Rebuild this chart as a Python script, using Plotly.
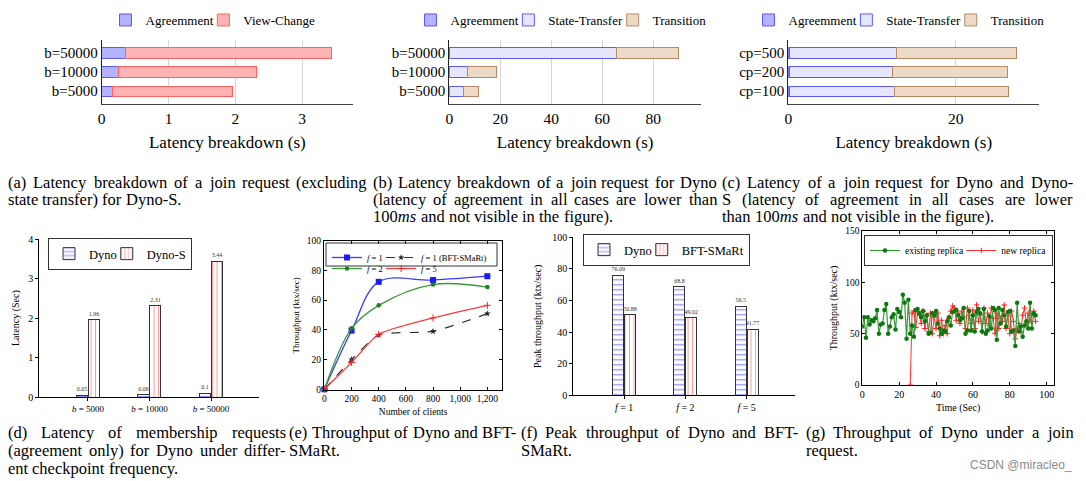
import plotly.graph_objects as go

# page offset (browser body margin) compensation
PAGE_OFF = 8
W, H = 1086 - PAGE_OFF, 481 - PAGE_OFF
FONT = "Liberation Serif"

# ---------------- data ----------------
# (a) Dyno-S join latency breakdown
a_cats = ["b=5000", "b=10000", "b=50000"]
a_agreement = [0.16, 0.25, 0.35]
a_viewchange = [1.80, 2.06, 3.09]

# (b) Dyno join latency breakdown
b_cats = ["b=5000", "b=10000", "b=50000"]
b_agreement = [0.05, 0.06, 0.10]
b_state = [5.6, 7.0, 65.5]
b_transition = [5.7, 11.4, 24.4]

# (c) checkpoint period
c_cats = ["cp=100", "cp=200", "cp=500"]
c_agreement = [0.15, 0.15, 0.15]
c_state = [12.6, 12.3, 12.8]
c_transition = [13.6, 13.7, 14.3]

# (d) membership latency
d_cats = ["<i>b</i> = 5000", "<i>b</i> = 10000", "<i>b</i> = 50000"]
d_dyno = [0.05, 0.06, 0.1]
d_dynos = [1.96, 2.31, 3.44]

# (e) throughput vs clients
e_clients = [0, 200, 400, 800, 1200]
e_f1 = [0, 39.5, 72.3, 73.5, 76.09]
e_f1_bft = [0, 20, 36.5, 39, 50.88]
e_f2 = [0, 41, 56.5, 70.5, 68.8]
e_f5 = [0, 18, 37, 48, 56.5]
e_xticks = [0, 200, 400, 600, 800, 1000, 1200]

# (f) peak throughput
f_cats = ["<i>f</i> = 1", "<i>f</i> = 2", "<i>f</i> = 5"]
f_dyno = [76.09, 68.8, 56.5]
f_bft = [50.88, 49.02, 41.77]

# (g) throughput during join
g_existing = [57, 66, 46, 66, 59, 63, 62, 65, 73, 50,
              59, 60, 73, 79, 50, 57, 66, 69, 54, 74,
              71, 66, 88, 80, 45, 83, 50, 58, 47, 73,
              74, 70, 66, 72, 62, 68, 50, 51, 70, 68,
              72, 60, 55, 50, 53, 52, 62, 66, 58, 71,
              72, 73, 68, 63, 65, 75, 50, 53, 72, 53,
              68, 52, 71, 74, 70, 52, 74, 50, 53, 67,
              55, 75, 73, 44, 75, 60, 73, 68, 57, 71,
              72, 52, 53, 38, 80, 52, 57, 47, 58, 62,
              55, 80, 55, 70, 68]
g_existing_t = list(range(0, 95))
g_new = [0, 70, 72, 56, 70, 68, 60, 72, 55, 68,
         52, 70, 50, 66, 55, 70, 48, 63, 50, 58,
         50, 65, 72, 77, 75, 63, 70, 60, 72, 66,
         55, 75, 68, 60, 73, 55, 78, 62, 68, 52,
         75, 60, 70, 58, 75, 65, 50, 70, 55, 65,
         62, 78, 55, 68, 50, 72, 62, 45, 55, 60,
         52, 68, 75, 60, 70, 62, 68, 72, 62]
g_new_t = list(range(26, 95))

# ---------------- helpers (reference pixel -> paper) ----------------
def X(px):
    return (px - PAGE_OFF) / W

def Y(py):
    return 1 - (py - PAGE_OFF) / H

def dx(x0, x1):
    return [X(x0), X(x1)]

def dy(top, bottom):
    return [Y(bottom), Y(top)]

# Times metrics (Liberation Serif is metric compatible)
TW = {' ': 250, '!': 333, '(': 333, ')': 333, ',': 250, '-': 333, '.': 250, '/': 278, ':': 278,
      '=': 564, '@': 921, '_': 500,
      'A': 722, 'B': 667, 'C': 667, 'D': 722, 'E': 611, 'F': 556, 'G': 722, 'H': 722, 'I': 333,
      'J': 389, 'K': 722, 'L': 611, 'M': 889, 'N': 722, 'O': 722, 'P': 556, 'Q': 722, 'R': 667,
      'S': 556, 'T': 611, 'U': 722, 'V': 722, 'W': 944, 'X': 722, 'Y': 722, 'Z': 611,
      'a': 444, 'b': 500, 'c': 444, 'd': 500, 'e': 444, 'f': 333, 'g': 500, 'h': 500, 'i': 278,
      'j': 278, 'k': 500, 'l': 278, 'm': 778, 'n': 500, 'o': 500, 'p': 500, 'q': 500, 'r': 333,
      's': 389, 't': 278, 'u': 500, 'v': 500, 'w': 722, 'x': 500, 'y': 500, 'z': 444}
for ch in "0123456789":
    TW[ch] = 500

def text_w(s, fs):
    s = s.replace("<i>", "").replace("</i>", "")
    return sum(TW.get(c, 500) for c in s) * fs / 1000.0

AGR_FILL, AGR_LINE = "#b3b3ff", "#5a5aff"
VC_FILL, VC_LINE = "#ffb3b3", "#ff6060"
ST_FILL, ST_LINE = "#e6e6ff", "#5a5aff"
TR_FILL, TR_LINE = "#ecd9c6", "#b98a62"

TOP_LEG_FS = 13
fig = go.Figure()

def hbar(name, vals, cats, fill, line, ax, leg, last=False):
    lw = None if last else max(text_w(name, TOP_LEG_FS) - 15, 1)
    fig.add_trace(go.Bar(
        name=name, x=vals, y=cats, orientation="h", width=0.53,
        marker=dict(color=fill, line=dict(color=line, width=1)),
        xaxis="x" + ax, yaxis="y" + ax, legend=leg, legendwidth=lw, hoverinfo="skip"))

hbar("Agreemment", a_agreement, a_cats, AGR_FILL, AGR_LINE, "", "legend")
hbar("View-Change", a_viewchange, a_cats, VC_FILL, VC_LINE, "", "legend", last=True)

hbar("Agreemment", b_agreement, b_cats, AGR_FILL, AGR_LINE, "2", "legend2")
hbar("State-Transfer", b_state, b_cats, ST_FILL, ST_LINE, "2", "legend2")
hbar("Transition", b_transition, b_cats, TR_FILL, TR_LINE, "2", "legend2", last=True)

hbar("Agreemment", c_agreement, c_cats, AGR_FILL, AGR_LINE, "3", "legend3")
hbar("State-Transfer", c_state, c_cats, ST_FILL, ST_LINE, "3", "legend3")
hbar("Transition", c_transition, c_cats, TR_FILL, TR_LINE, "3", "legend3", last=True)

OFF = 0.097
BW = 0.18
BOT_LEG_FS = 12.5
DYNO_MARK = dict(color="white", line=dict(color="#333", width=1),
                 pattern=dict(shape="-", fgcolor="#2020ff", bgcolor="white", size=5, solidity=0.25))
RED_MARK = dict(color="white", line=dict(color="#333", width=1),
                pattern=dict(shape="|", fgcolor="#ff3030", bgcolor="white", size=4.5, solidity=0.22))

def vbar(name, vals, sign, mark, ax, leg, last=False):
    n = len(vals)
    lw = None if last else max(text_w(name, BOT_LEG_FS) - 15, 1)
    fig.add_trace(go.Bar(
        name=name, x=[i + sign * OFF for i in range(n)], y=vals, width=BW,
        marker=mark, text=[str(v) for v in vals], textposition="outside",
        textfont=dict(size=6, family=FONT, color="#333"), constraintext="none", cliponaxis=False,
        xaxis="x" + ax, yaxis="y" + ax, legend=leg, legendwidth=lw, hoverinfo="skip"))

vbar("Dyno", d_dyno, -1, DYNO_MARK, "4", "legend4")
vbar("Dyno-S", d_dynos, 1, RED_MARK, "4", "legend4", last=True)

vbar("Dyno", f_dyno, -1, DYNO_MARK, "6", "legend7")
vbar("BFT-SMaRt", f_bft, 1, RED_MARK, "6", "legend7", last=True)

# (e) lines
E_FS = 8.5
e_lw = text_w("f = 1", E_FS) - 7
fig.add_trace(go.Scatter(name="<i>f</i> = 1", x=e_clients, y=e_f1, mode="lines+markers",
                         line=dict(color="#3a3aff", width=1.3, shape="spline", smoothing=1),
                         marker=dict(symbol="square", size=6, color="#1a1aff"),
                         xaxis="x5", yaxis="y5", legend="legend5", legendwidth=e_lw, cliponaxis=False))
fig.add_trace(go.Scatter(name="<i>f</i> = 1 (BFT-SMaRt)", x=e_clients, y=e_f1_bft, mode="lines+markers",
                         line=dict(color="#333", width=1.2, dash="dash", shape="spline", smoothing=0.6),
                         marker=dict(symbol="star", size=5, color="#222"),
                         xaxis="x5", yaxis="y5", legend="legend5", cliponaxis=False))
fig.add_trace(go.Scatter(name="<i>f</i> = 2", x=e_clients, y=e_f2, mode="lines+markers",
                         line=dict(color="#3a9a3a", width=1.3, shape="spline", smoothing=1),
                         marker=dict(symbol="circle", size=4.5, color="#1f7f1f"),
                         xaxis="x5", yaxis="y5", legend="legend6", legendwidth=e_lw, cliponaxis=False))
fig.add_trace(go.Scatter(name="<i>f</i> = 5", x=e_clients, y=e_f5, mode="lines+markers",
                         line=dict(color="#ff3a3a", width=1.3, shape="spline", smoothing=0.6),
                         marker=dict(symbol="cross-thin", size=5, line=dict(color="#ff2020", width=1)),
                         xaxis="x5", yaxis="y5", legend="legend6", cliponaxis=False))

# (g) lines (new replica drawn first so the existing replica stays on top)
G_FS = 9.5
fig.add_trace(go.Scatter(name="new replica", x=g_new_t, y=g_new, mode="lines+markers",
                         line=dict(color="#ff3030", width=1),
                         marker=dict(symbol="cross-thin", size=4, line=dict(color="#ff2020", width=1)),
                         xaxis="x7", yaxis="y7", legend="legend8", legendrank=2))
fig.add_trace(go.Scatter(name="existing replica", x=g_existing_t, y=g_existing, mode="lines+markers",
                         line=dict(color="#3c9a3c", width=1.2),
                         marker=dict(symbol="circle", size=4.5, color="#0d780d"),
                         xaxis="x7", yaxis="y7", legend="legend8", legendrank=1,
                         legendwidth=text_w("existing replica", G_FS) - 7))

# ---------------- axes ----------------
BLK = "black"

def f_(s):
    return dict(size=s, family=FONT, color=BLK)

def top_x(domain, rng, dtick):
    return dict(domain=domain, range=rng, dtick=dtick, tick0=0, showgrid=True, gridcolor="#d6d6d6",
                showline=True, linecolor="#444", linewidth=1, zeroline=False, ticks="",
                tickfont=f_(15.5),
                title=dict(text="Latency breakdown (s)", font=f_(17), standoff=10))

def top_y(domain, cats):
    return dict(domain=domain, type="category", categoryorder="array", categoryarray=cats,
                range=[-0.68, 2.68], showline=True, linecolor="#222", linewidth=1, ticks="",
                showgrid=False, zeroline=False, tickfont=f_(15))

ROW1 = dy(40, 104)
lay = dict(
    xaxis=dict(top_x(dx(101.7, 353), [0, 3.76], 1), anchor="y"),
    yaxis=dict(top_y(ROW1, a_cats), anchor="x"),
    xaxis2=dict(top_x(dx(449.3, 701), [0, 98.7], 20), anchor="y2"),
    yaxis2=dict(top_y(ROW1, b_cats), anchor="x2"),
    xaxis3=dict(top_x(dx(788.3, 1039.3), [0, 30], 20), anchor="y3"),
    yaxis3=dict(top_y(ROW1, c_cats), anchor="x3"),
)

# (d)
lay["xaxis4"] = dict(domain=dx(39.3, 259), anchor="y4", range=[-0.79, 2.78],
                     tickvals=list(range(len(d_cats))), ticktext=d_cats, showline=True, linecolor=BLK,
                     ticks="outside", ticklen=3, tickcolor=BLK, zeroline=False, showgrid=False,
                     tickfont=f_(9))
lay["yaxis4"] = dict(domain=dy(239, 397.3), anchor="x4", range=[0, 4], dtick=1, showline=True,
                     linecolor=BLK, ticks="outside", ticklen=3, tickcolor=BLK, zeroline=False,
                     showgrid=False, tickfont=f_(10),
                     title=dict(text="Latency (Sec)", font=f_(10), standoff=6))
# (e)
lay["xaxis5"] = dict(domain=dx(324, 502.3), anchor="y5", range=[-3, 1310], tickvals=e_xticks,
                     tickformat=",", showline=True, mirror="allticks", linecolor=BLK, ticks="inside",
                     ticklen=3, tickcolor=BLK, zeroline=False, showgrid=False, tickfont=f_(9.5),
                     title=dict(text="Number of clients", font=f_(9.5), standoff=4))
lay["yaxis5"] = dict(domain=dy(240.7, 390), anchor="x5", range=[-0.5, 100], dtick=20, showline=True,
                     mirror="allticks", linecolor=BLK, ticks="inside", ticklen=3, tickcolor=BLK,
                     zeroline=False, showgrid=False, tickfont=f_(9.5),
                     title=dict(text="Throughput (ktx/sec)", font=f_(9), standoff=5))
# (f)
lay["xaxis6"] = dict(domain=dx(573.3, 795), anchor="y6", range=[-0.83, 2.79],
                     tickvals=list(range(len(f_cats))), ticktext=f_cats, showline=True, linecolor=BLK,
                     ticks="outside", ticklen=3, tickcolor=BLK, zeroline=False, showgrid=False,
                     tickfont=f_(10))
lay["yaxis6"] = dict(domain=dy(237.3, 395.3), anchor="x6", range=[0, 100], dtick=20, showline=True,
                     linecolor=BLK, ticks="outside", ticklen=3, tickcolor=BLK, zeroline=False,
                     showgrid=False, tickfont=f_(10),
                     title=dict(text="Peak throughput (ktx/sec)", font=f_(10), standoff=8))
# (g)
lay["xaxis7"] = dict(domain=dx(862.3, 1054), anchor="y7", range=[0, 104], dtick=20, showline=True,
                     mirror="allticks", linecolor=BLK, ticks="inside", ticklen=3, tickcolor=BLK,
                     zeroline=False, showgrid=False, tickfont=f_(10),
                     title=dict(text="Time (Sec)", font=f_(10), standoff=4))
lay["yaxis7"] = dict(domain=dy(231, 385), anchor="x7", range=[0, 150], dtick=50, showline=True,
                     mirror="allticks", linecolor=BLK, ticks="inside", ticklen=3, tickcolor=BLK,
                     zeroline=False, showgrid=False, tickfont=f_(9.5),
                     title=dict(text="Throughput (ktx/sec)", font=f_(10), standoff=5))

# ---------------- legends ----------------
def leg(x, y, size, xanchor="left", yanchor="top", border=False):
    d = dict(orientation="h", x=X(x), y=Y(y), xanchor=xanchor, yanchor=yanchor,
             font=f_(size), traceorder="normal",
             bgcolor="rgba(255,255,255,0)", itemwidth=30, tracegroupgap=0)
    if border:
        d.update(bordercolor="#333", borderwidth=1, bgcolor="white")
    return d

lay["legend"] = leg(213, 20, TOP_LEG_FS, "center", "middle")
lay["legend2"] = leg(561, 20, TOP_LEG_FS, "center", "middle")
lay["legend3"] = leg(899, 20, TOP_LEG_FS, "center", "middle")
lay["legend4"] = leg(48, 238, BOT_LEG_FS, border=True)
lay["legend5"] = leg(327, 243, E_FS)
lay["legend6"] = leg(327, 254, E_FS)
lay["legend7"] = leg(583, 234, BOT_LEG_FS, border=True)
lay["legend8"] = leg(864, 235, G_FS, border=True)

# ---------------- captions (justified word by word) ----------------
annotations = []
CAP_FS = 16.5

def caption(lines, x0, x1, ys):
    for (txt, just), yc in zip(lines, ys):
        words = txt.split(" ")
        ws = [text_w(w, CAP_FS) for w in words]
        if just and len(words) > 1:
            gap = (x1 - x0 - sum(ws)) / (len(words) - 1)
        else:
            gap = 250 * CAP_FS / 1000.0
        x = x0
        for w, wd in zip(words, ws):
            annotations.append(dict(x=X(x), y=Y(yc), xref="paper", yref="paper", text=w,
                                    xanchor="left", yanchor="middle", showarrow=False,
                                    borderpad=0, borderwidth=0, font=f_(CAP_FS)))
            x += wd + gap

R1 = [182.5, 199.5, 216.5]
R2 = [432, 450, 468]
caption([("(a) Latency breakdown of a join request (excluding", True),
         ("state transfer) for Dyno-S.", False)], 8, 367, R1)
caption([("(b) Latency breakdown of a join request for Dyno", True),
         ("(latency of agreement in all cases are lower than", True),
         ("100<i>ms</i> and not visible in the figure).", False)], 373, 717, R1)
caption([("(c) Latency of a join request for Dyno and Dyno-", True),
         ("S (latency of agreement in all cases are lower", True),
         ("than 100<i>ms</i> and not visible in the figure).", False)], 722, 1073, R1)
caption([("(d) Latency of membership requests", True),
         ("(agreement only) for Dyno under differ-", True),
         ("ent checkpoint frequency.", False)], 8, 286, R2)
caption([("(e) Throughput of Dyno and BFT-", True),
         ("SMaRt.", False)], 289, 518, R2)
caption([("(f) Peak throughput of Dyno and BFT-", True),
         ("SMaRt.", False)], 521, 800, R2)
caption([("(g) Throughput of Dyno under a join", True),
         ("request.", False)], 806, 1073, R2)

annotations.append(dict(x=X(1072), y=Y(465), xref="paper", yref="paper", text="CSDN @miracleo_",
                        xanchor="right", yanchor="middle", showarrow=False, borderpad=0, borderwidth=0,
                        font=dict(size=12, family="Liberation Sans", color="#8a8a8a")))

# frame around the two-row legend of (e)
shapes = [dict(type="rect", xref="paper", yref="paper", x0=X(326), x1=X(497),
               y0=Y(266), y1=Y(243), line=dict(color="#333", width=1),
               fillcolor="rgba(255,255,255,0)", layer="above")]

fig.update_layout(width=W, height=H, margin=dict(l=0, r=0, t=0, b=0, autoexpand=False),
                  paper_bgcolor="white", plot_bgcolor="white", barmode="stack", showlegend=True,
                  font=dict(family=FONT, color=BLK), annotations=annotations, shapes=shapes, **lay)

fig.write_html("out.html")
